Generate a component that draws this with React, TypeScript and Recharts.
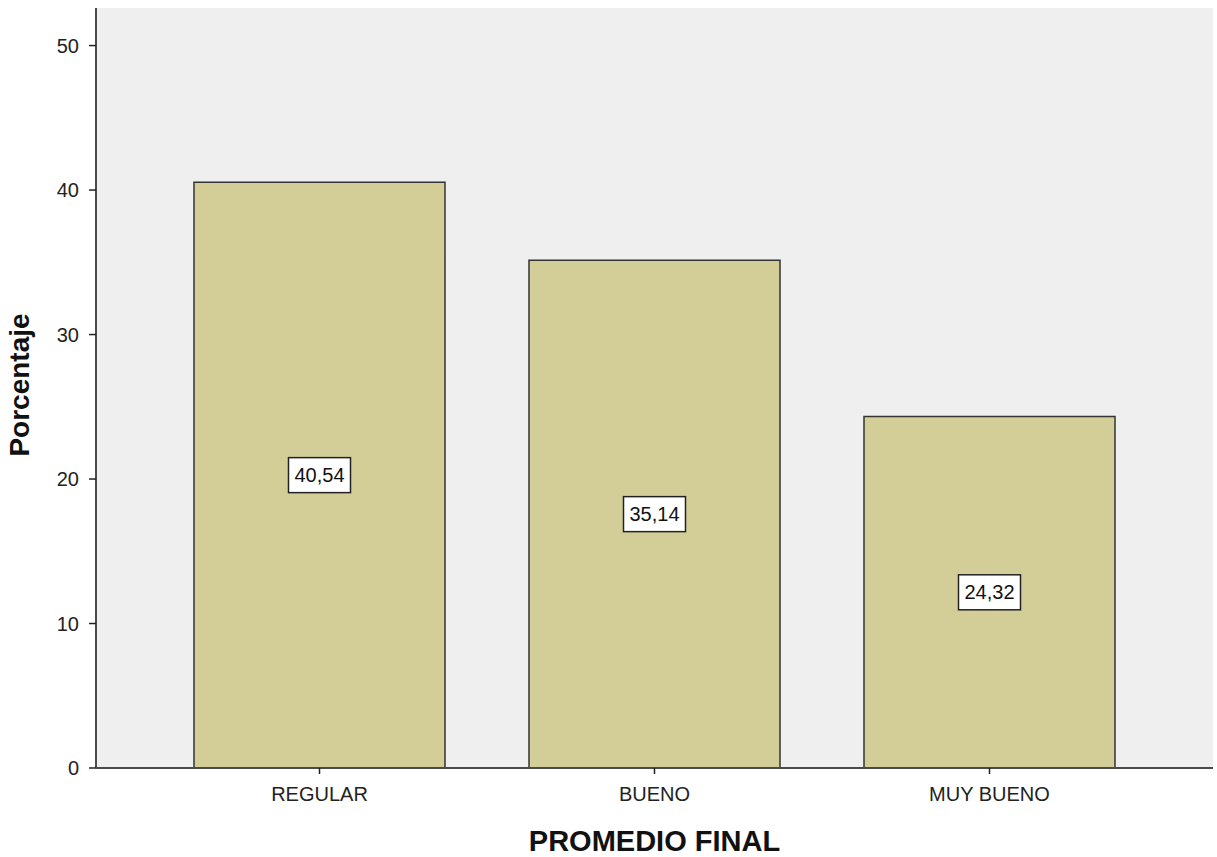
import React from 'react';
import { BarChart, Bar, XAxis, YAxis, CartesianGrid, LabelList, Label } from 'recharts';

const categories = ['REGULAR', 'BUENO', 'MUY BUENO'];
const percentages = [40.54, 35.14, 24.32];
const yTicks = [0, 10, 20, 30, 40, 50];

const data = categories.map((name, i) => ({ name, value: percentages[i] }));

const FONT = '"Liberation Sans", Arial, sans-serif';
const BORDER = '#4a4a4a';

const formatValue = (v: number) => v.toFixed(2).replace('.', ',');

const ValueBox = (props: any) => {
  const { x, y, width, height, value } = props;
  const cx = Number(x) + Number(width) / 2;
  const cy = Number(y) + Number(height) / 2;
  const w = 62;
  const h = 35;
  return (
    <g>
      <rect x={cx - w / 2} y={cy - h / 2} width={w} height={h} fill="#ffffff" stroke="#222" strokeWidth={1.5} />
      <text x={cx} y={cy} dy={7} textAnchor="middle" fontSize={20} fontFamily={FONT} fill="#111">
        {formatValue(Number(value))}
      </text>
    </g>
  );
};

export default function App() {
  return (
    <div style={{ position: 'absolute', left: 0, top: 0, width: 1217, height: 857, background: '#fff' }}>
      <BarChart
        width={1217}
        height={857}
        data={data}
        margin={{ top: 8, right: 4, left: 0, bottom: 0 }}
      >
        <CartesianGrid fill="#efefef" horizontal={false} vertical={false} />
        <XAxis
          dataKey="name"
          type="category"
          height={89}
          padding={{ left: 56, right: 56 }}
          axisLine={{ stroke: BORDER, strokeWidth: 2 }}
          tickLine={{ stroke: '#222', strokeWidth: 1.5 }}
          tickSize={6}
          tickMargin={13}
          tick={{ fontSize: 20, fontFamily: FONT, fill: '#222' }}
        >
          <Label
            value="PROMEDIO FINAL"
            position="insideBottom"
            offset={6}
            style={{ fontSize: 29, fontWeight: 700, fontFamily: FONT, fill: '#111' }}
          />
        </XAxis>
        <XAxis xAxisId="top" orientation="top" height={0} tick={false} tickLine={false} axisLine={{ stroke: BORDER, strokeWidth: 2 }} />
        <YAxis
          width={96}
          domain={[0, 52.6]}
          ticks={yTicks}
          allowDataOverflow
          axisLine={{ stroke: BORDER, strokeWidth: 2 }}
          tickLine={{ stroke: '#222', strokeWidth: 1.5 }}
          tickSize={7}
          tickMargin={10}
          tick={{ fontSize: 20, fontFamily: FONT, fill: '#222' }}
        >
          <Label
            value="Porcentaje"
            angle={-90}
            position="insideLeft"
            offset={19}
            dy={-3}
            style={{ textAnchor: 'middle', fontSize: 28, fontWeight: 700, fontFamily: FONT, fill: '#111' }}
          />
        </YAxis>
        <YAxis yAxisId="right" orientation="right" width={0} tick={false} tickLine={false} axisLine={{ stroke: BORDER, strokeWidth: 2.5 }} />
        <Bar dataKey="value" barSize={251} fill="#d3ce97" stroke="#333" strokeWidth={1.5} isAnimationActive={false}>
          <LabelList dataKey="value" content={ValueBox} />
        </Bar>
      </BarChart>
    </div>
  );
}
